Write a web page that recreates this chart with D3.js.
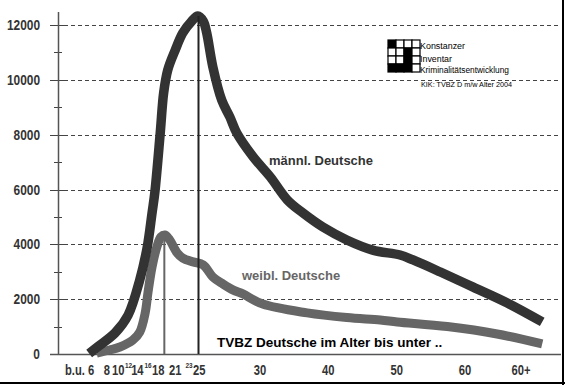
<!DOCTYPE html>
<html>
<head>
<meta charset="utf-8">
<script src="https://cdn.jsdelivr.net/npm/d3@7"></script>
<style>
  body { margin: 0; background: #fff; }
  svg { display: block; font-family: "Liberation Sans", Arial, sans-serif; }
</style>
</head>
<body>
<div id="chart"></div>
<script>
// Alter (Jahre) / TVBZ
var maleAge   = [5.0, 6.4, 8.8, 10.7, 12.4, 13.5, 14.2, 14.6, 15.4, 15.9, 16.5, 17.6, 18.7, 20.0, 20.9, 21.7, 22.2, 23.1, 24.4, 25.6, 26.6, 29.0, 31.5, 34.0, 36.3, 39.2, 42.7, 46.5, 50.5, 52.4, 56.4, 61.2, 66.2, 71.3];
var maleTvbz  = [20, 290, 770, 1420, 2700, 3900, 5140, 5870, 8060, 9520, 10360, 11090, 11710, 12140, 12330, 12140, 11710, 10470, 9260, 8640, 8060, 7190, 6460, 5620, 5140, 4630, 4160, 3790, 3610, 3430, 2990, 2440, 1860, 1170];
var femaleAge  = [6.1, 8.0, 9.5, 11.4, 12.4, 13.2, 13.6, 14.2, 14.9, 15.5, 16.1, 16.7, 17.9, 18.7, 20.2, 21.7, 23.1, 24.6, 26.1, 27.5, 30.4, 36.9, 42.7, 47.6, 50.1, 57.4, 64.7, 71.3];
var femaleTvbz = [36, 146, 255, 510, 800, 1500, 2230, 3170, 3900, 4270, 4340, 4190, 3680, 3500, 3360, 3250, 2810, 2550, 2330, 2190, 1820, 1500, 1330, 1240, 1170, 1000, 730, 365];

var peakAges = [16, 21];
var peakVals = [4340, 12330];

var yTicks = [0, 2000, 4000, 6000, 8000, 10000, 12000];
var yMinor = [1000, 3000, 5000, 7000, 9000, 11000];

// Beschriftung der Altersgruppen (Position in Jahren, klein = hochgestellt)
var xLabels = ["b.u. 6", "8", "10", "12", "14", "16", "18", "21", "23", "25", "30", "40", "50", "60", "60+"];
var xLabelPos = [3.6, 7.6, 9.25, 10.75, 12.05, 13.6, 15.1, 17.6, 19.6, 21.1, 30, 40, 50, 60, 68.2];
var xLabelSmall = [false, false, false, true, false, true, false, false, true, false, false, false, false, false, false];

var logoLines = ["Konstanzer", "Inventar", "Kriminalitätsentwicklung"];
var logoWidths = [45, 32, 89];

var width = 565, height = 385;
var svg = d3.select("#chart").append("svg")
  .attr("width", width).attr("height", height);

var x = d3.scaleLinear().domain([30, 60]).range([260, 465]);
var y = d3.scaleLinear().domain([0, 12000]).range([354, 25]);
var axisX = 58, gridEnd = 561;

// Gitter
svg.selectAll("line.grid").data(yTicks.slice(1)).enter().append("line")
  .attr("x1", 50).attr("x2", gridEnd)
  .attr("y1", function(d){ return Math.round(y(d)) + 0.5; })
  .attr("y2", function(d){ return Math.round(y(d)) + 0.5; })
  .attr("stroke", "#444").attr("stroke-width", 1)
  .attr("stroke-dasharray", "4,3");

svg.selectAll("line.minor").data(yMinor).enter().append("line")
  .attr("x1", 54).attr("x2", 62)
  .attr("y1", function(d){ return Math.round(y(d)) + 0.5; })
  .attr("y2", function(d){ return Math.round(y(d)) + 0.5; })
  .attr("stroke", "#444");

svg.selectAll("line.major").data(yTicks.slice(1)).enter().append("line")
  .attr("x1", 50).attr("x2", 64)
  .attr("y1", function(d){ return Math.round(y(d)) + 0.5; })
  .attr("y2", function(d){ return Math.round(y(d)) + 0.5; })
  .attr("stroke", "#444");

// Achsen
svg.append("line").attr("x1", axisX + 0.5).attr("x2", axisX + 0.5)
  .attr("y1", 12).attr("y2", y(0)).attr("stroke", "#555").attr("stroke-width", 1.5);
svg.append("line").attr("x1", 50).attr("x2", gridEnd)
  .attr("y1", y(0) + 0.5).attr("y2", y(0) + 0.5).attr("stroke", "#555").attr("stroke-width", 1.5);

svg.selectAll("text.ytick").data(yTicks).enter().append("text")
  .attr("transform", function(d){ return "translate(40," + (y(d) + 5) + ") scale(0.85,1)"; })
  .attr("text-anchor", "end")
  .style("font-size", "14px").style("font-weight", "bold").attr("fill", "#333")
  .text(function(d){ return d; });

svg.selectAll("text.xtick").data(xLabels).enter().append("text")
  .attr("transform", function(d, i){
    return "translate(" + x(xLabelPos[i]) + "," + (xLabelSmall[i] ? 368 : 375) + ") scale(0.8,1)";
  })
  .attr("text-anchor", "middle")
  .style("font-size", function(d, i){ return xLabelSmall[i] ? "8px" : "14px"; })
  .style("font-weight", "bold").attr("fill", "#333")
  .text(function(d){ return d; });

// Linien
var line = d3.line().curve(d3.curveCatmullRom.alpha(0.5))
  .x(function(d){ return x(d[0]); })
  .y(function(d){ return y(d[1]); });

svg.append("path").datum(d3.zip(femaleAge, femaleTvbz))
  .attr("d", line).attr("fill", "none")
  .attr("stroke", "#666").attr("stroke-width", 9).attr("stroke-linejoin", "round");

svg.append("path").datum(d3.zip(maleAge, maleTvbz))
  .attr("d", line).attr("fill", "none")
  .attr("stroke", "#333").attr("stroke-width", 9.5).attr("stroke-linejoin", "round");

svg.selectAll("line.peak").data(peakAges).enter().append("line")
  .attr("x1", function(d){ return x(d); }).attr("x2", function(d){ return x(d); })
  .attr("y1", function(d, i){ return y(peakVals[i]); })
  .attr("y2", y(0))
  .attr("stroke", function(d, i){ return i === 0 ? "#666" : "#222"; })
  .attr("stroke-width", 2);

// Texte
svg.append("text").attr("x", 269).attr("y", 165)
  .style("font-size", "13px").style("font-weight", "bold").attr("fill", "#333")
  .text("männl. Deutsche");
svg.append("text").attr("x", 242).attr("y", 280)
  .style("font-size", "13px").style("font-weight", "bold").attr("fill", "#666")
  .text("weibl. Deutsche");
svg.append("text").attr("x", 217).attr("y", 347)
  .style("font-size", "13.5px").style("font-weight", "bold").attr("fill", "#000")
  .text("TVBZ Deutsche im Alter bis unter ..");

// Logo
var logo = svg.append("g").attr("transform", "translate(388,40)");
var cells = [[0,0,1],[1,0,0],[2,0,0],[3,0,0],[0,1,0],[1,1,0],[2,1,1],[3,1,0],[0,2,0],[1,2,0],[2,2,1],[3,2,0],[0,3,1],[1,3,1],[2,3,1],[3,3,0]];
logo.selectAll("rect").data(cells).enter().append("rect")
  .attr("x", function(d){ return d[0] * 8; }).attr("y", function(d){ return d[1] * 8; })
  .attr("width", 8).attr("height", 8)
  .attr("fill", function(d){ return d[2] ? "#000" : "#fff"; })
  .attr("stroke", "#000").attr("stroke-width", 1.2);

svg.selectAll("text.logo").data(logoLines).enter().append("text")
  .attr("x", 420).attr("y", function(d, i){ return [49, 62, 73][i]; })
  .attr("textLength", function(d, i){ return logoWidths[i]; })
  .attr("lengthAdjust", "spacingAndGlyphs")
  .style("font-size", "8.5px").attr("fill", "#000")
  .text(function(d){ return d; });
svg.append("text").attr("x", 421).attr("y", 87)
  .attr("textLength", 91).attr("lengthAdjust", "spacingAndGlyphs")
  .style("font-size", "7px").attr("fill", "#000")
  .text("KIK: TVBZ D m/w Alter 2004");

// Rahmen
svg.append("line").attr("x1", 563).attr("x2", 563).attr("y1", 0).attr("y2", 385)
  .attr("stroke", "#000").attr("stroke-width", 2);
svg.append("line").attr("x1", 0).attr("x2", 565).attr("y1", 383).attr("y2", 383)
  .attr("stroke", "#000").attr("stroke-width", 2);
</script>
</body>
</html>
